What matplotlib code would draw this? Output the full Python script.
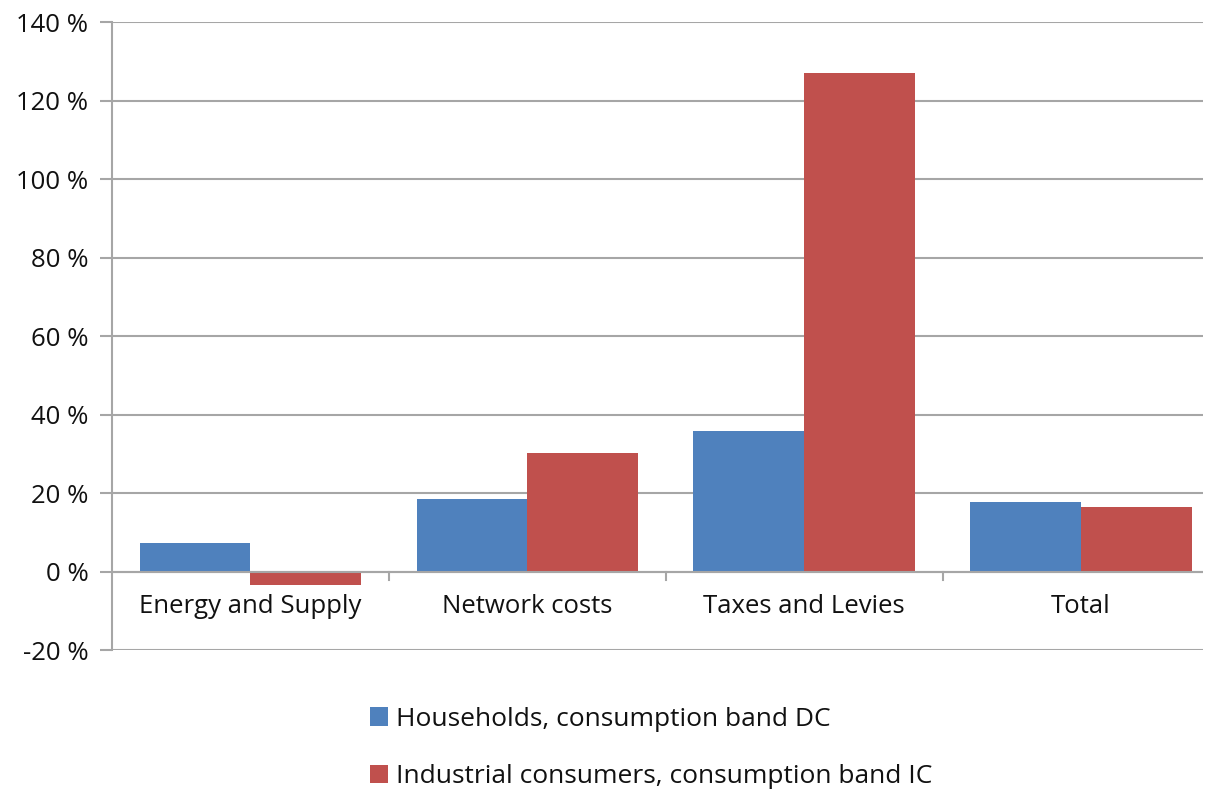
import numpy as np
import matplotlib.pyplot as plt

categories = ["Energy and Supply", "Network costs", "Taxes and Levies", "Total"]
households = [7.4, 18.4, 35.9, 17.7]
industrial = [-3.4, 30.3, 127.0, 16.5]
series_names = ["Households, consumption band DC", "Industrial consumers, consumption band IC"]
y_ticks = [-20, 0, 20, 40, 60, 80, 100, 120, 140]

BLUE = "#4F81BD"
RED = "#C0504D"
GRID = "#A6A6A6"
TEXT = "#111111"

plt.rcParams["font.family"] = ["Open Sans", "DejaVu Sans"]

fig = plt.figure(figsize=(12.09, 7.96), dpi=100)
ax = fig.add_axes([0.0926, 0.1834, 0.9024, 0.7886])

x = np.arange(len(categories))
w = 0.4
ax.bar(x - w / 2, households, width=w, color=BLUE, label=series_names[0], zorder=3)
ax.bar(x + w / 2, industrial, width=w, color=RED, label=series_names[1], zorder=3)

# plot area runs slightly past the right edge of the picture
ax.set_xlim(-0.5, 3.44)
ax.set_ylim(-20, 140)
ax.set_yticks(y_ticks)
ax.set_yticklabels([f"{v} %" for v in y_ticks], fontsize=18.5, color=TEXT)
ax.yaxis.grid(True, color=GRID, linewidth=1.5, zorder=0)
ax.tick_params(axis="y", length=9, width=1.5, color=GRID, pad=8)

# category labels under the zero line, boundary ticks on it
ax.set_xticks([])
for i, c in enumerate(categories):
    ax.text(i, -8.9, c, ha="center", va="center", fontsize=18.5, color=TEXT)
ax.axhline(0, color=GRID, linewidth=1.5, zorder=4)
for b in np.arange(0.5, len(categories) - 1, 1.0):
    ax.plot([b, b], [0, -2.2], color=GRID, linewidth=1.5, zorder=4, clip_on=False)

for side in ["top", "right", "bottom"]:
    ax.spines[side].set_visible(False)
ax.spines["left"].set_color(GRID)
ax.spines["left"].set_linewidth(1.5)

fig.legend(loc="upper left", bbox_to_anchor=(0.295, 0.129), frameon=False,
           fontsize=19, labelcolor=TEXT, handlelength=0.7, handleheight=0.7,
           handletextpad=0.3, labelspacing=1.25, borderpad=0)

fig.savefig("out.png", dpi=100)
